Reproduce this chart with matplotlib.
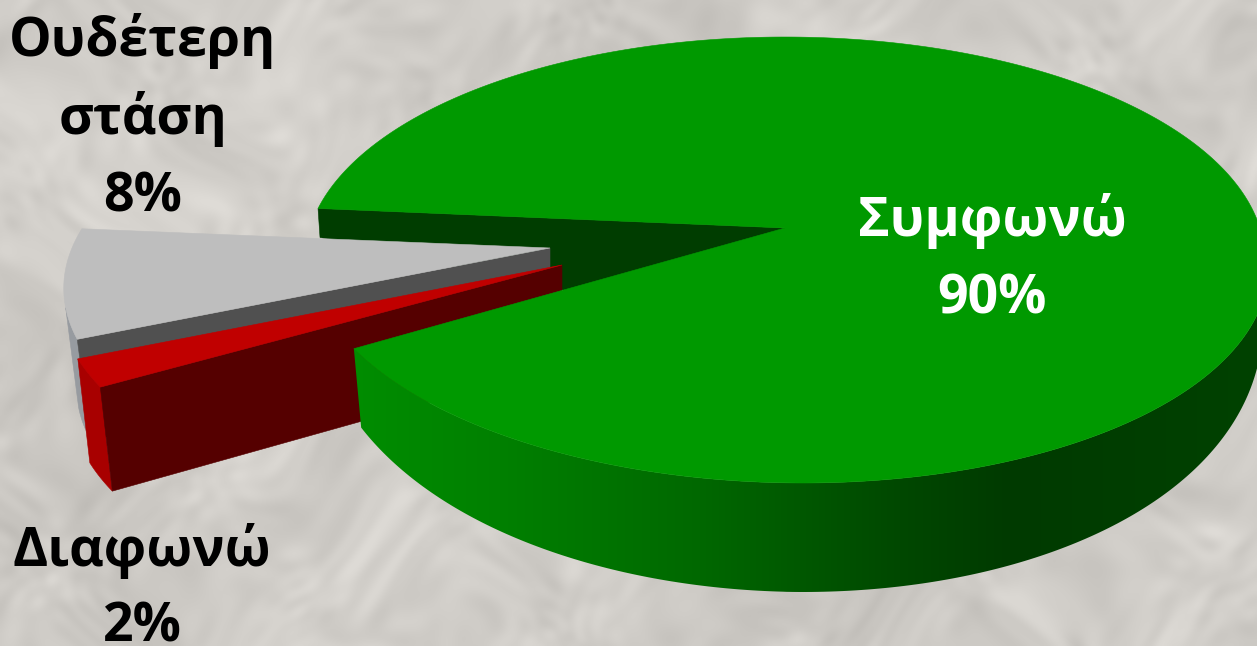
import numpy as np
import matplotlib
matplotlib.use("Agg")
import matplotlib.pyplot as plt
from matplotlib.patches import Polygon

# ---- data ----
categories = ["Ουδέτερη\nστάση", "Διαφωνώ", "Συμφωνώ"]
values = [8, 2, 90]
percent_labels = ["8%", "2%", "90%"]

# ---- style / layout ----
W, H = 1257, 646
START = -5.2          # degrees from the viewer's left, turning toward the viewer
K = 0.1435            # perspective strength
TOP_COL = ["#BEBEBE", "#C00000", "#009900"]
WALL_COL = ["#505050", "#550000", "#003D00"]
OUTER_COL = ["#979BA0", "#A80000", None]
GEOM = [dict(ax=550, ay=248, rx=478, ry=215, shear=-20),
        dict(ax=562, ay=265, rx=498, ry=221, shear=0),
        dict(ax=785, ay=228, rx=475, ry=218.4, shear=18)]
SHIFTS = [(13, 100), (12, 104)]
OUTER_FROM = [0.72, 0.0]
LABEL_POS = [(143, (41, 119, 197)), (142, (551, 627)), (992, (221, 299))]
LABEL_COL = ["black", "black", "white"]
FONT = ["Open Sans", "Noto Sans", "DejaVu Sans"]
FS = 38.6


def project(g, phi):
    phi = np.radians(phi)
    u, v = -np.cos(phi), np.sin(phi)
    d = 1 - K * v
    lean = np.maximum(v, 0) if g["shear"] > 0 else v
    return g["ax"] + g["rx"] * u / d + g["shear"] * lean, g["ay"] + g["ry"] * v / d, v


def thickness(v):
    return 37.4 + 90.9 * v - 19.3 * v * v


fig = plt.figure(figsize=(W / 100, H / 100), dpi=100)
ax = fig.add_axes([0, 0, 1, 1])
ax.axis("off")

# mottled marble backdrop built from fixed waves
yy, xx = np.mgrid[0:H:2, 0:W:2].astype(float)
wx = xx + 45 * np.sin(0.011 * yy + 0.7) + 22 * np.sin(0.031 * yy + 0.021 * xx)
wy = yy + 45 * np.sin(0.013 * xx + 1.9) + 22 * np.sin(0.027 * xx - 0.019 * yy)
tex = np.zeros_like(xx)
for i in range(1, 110):
    ang = i * 2.39996
    freq = 0.006 + 0.0022 * i
    amp = 1.5 * (0.012 / freq) ** 0.5
    tex += amp * np.sin(freq * (np.cos(ang) * wx + np.sin(ang) * wy) + i * 1.7)
bg = np.dstack([208 + tex, 205 + tex, 200 + tex]) / 255
ax.imshow(np.clip(bg, 0, 1), extent=(0, W, H, 0), aspect="auto", zorder=0, interpolation="bilinear")
ax.set_xlim(0, W)
ax.set_ylim(H, 0)

# wedge angles come from the values
edges = START + np.concatenate([[0], np.cumsum(values)]) * 360.0 / sum(values)


def add(points, color, zorder, lw=0.4):
    ax.add_patch(Polygon(points, closed=True, fc=color, ec=color, lw=lw, zorder=zorder))


# inner wall of the big slice, seen through the gap
g = GEOM[2]
x0, y0, v0 = project(g, edges[0])
add([(g["ax"], g["ay"]), (x0, y0), (x0 + 2, y0 + 29), (g["ax"], g["ay"] + 110)], WALL_COL[2], 1)

# the two pulled-out slices
for i in (0, 1):
    g = GEOM[i]
    phis = np.linspace(edges[i], edges[i + 1], 40)
    xs, ys, _ = project(g, phis)
    base = 2 + 3 * i
    oxy = np.column_stack([xs, ys])
    rim = oxy[int(OUTER_FROM[i] * len(oxy)):]
    add(np.vstack([rim, rim[::-1] + SHIFTS[i]]), OUTER_COL[i], base)
    apex = np.array([g["ax"], g["ay"]])
    add([apex, oxy[-1], oxy[-1] + SHIFTS[i], apex + (0, 100)], WALL_COL[i], base + 1)
    add(np.vstack([apex, oxy]), TOP_COL[i], base + 2)

# big slice: curved wall shaded by position, one smooth gradient clipped to the wall
g = GEOM[2]
phis = np.linspace(edges[2], 200, 260)
xs, ys, vs = project(g, phis)
keep = vs > -0.02
xs, ys, vs = xs[keep], ys[keep], vs[keep]
bx = g["ax"] + (xs - g["ax"]) * 0.99 + 3 * (xs < g["ax"])
by = ys + thickness(vs)
wall = Polygon(np.vstack([np.column_stack([xs, ys]), np.column_stack([bx, by])[::-1]]),
               closed=True, fc="none", ec="none", zorder=10)
ax.add_patch(wall)
stops_x = [340, 500, 700, 900, 1010, 1260]
stops_g = [142, 128, 104, 72, 58, 66]
ramp_x = np.arange(0, W + 1)
ramp = np.zeros((1, ramp_x.size, 3))
ramp[0, :, 1] = np.interp(ramp_x, stops_x, stops_g) / 255
im = ax.imshow(ramp, extent=(0, W, H, 0), aspect="auto", zorder=10, interpolation="bilinear")
im.set_clip_path(wall)
ax.set_xlim(0, W)
ax.set_ylim(H, 0)

phis = np.linspace(edges[2], edges[3], 400)
xs, ys, _ = project(g, phis)
add(np.vstack([[g["ax"], g["ay"]], np.column_stack([xs, ys])]), TOP_COL[2], 11)

# labels
for cat, pct, (lx, lys), col in zip(categories, percent_labels, LABEL_POS, LABEL_COL):
    for line, ly in zip(cat.split("\n") + [pct], lys):
        ax.text(lx, ly, line, ha="center", va="center", fontsize=FS, fontweight="bold",
                family=FONT, color=col, zorder=20)

fig.savefig("out.png", dpi=100)
